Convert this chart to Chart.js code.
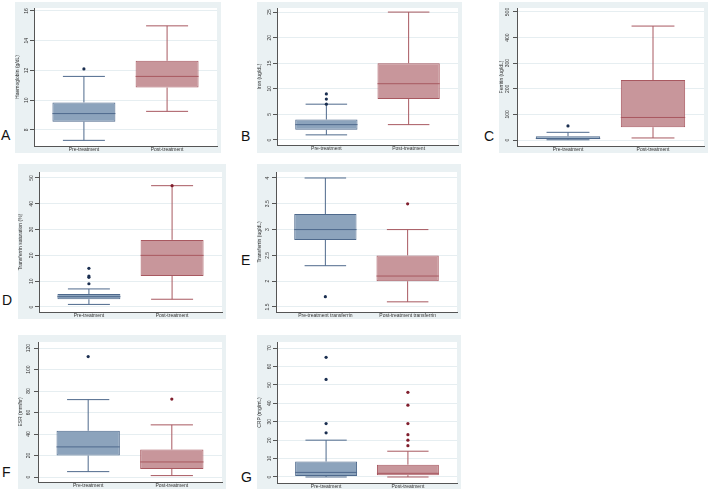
<!DOCTYPE html>
<html>
<head>
<meta charset="utf-8">
<script src="https://cdn.jsdelivr.net/npm/chart.js@4.4.0/dist/chart.umd.min.js"></script>
<style>
  body { margin: 0; background: #fff; width: 709px; height: 491px; position: relative; overflow: hidden; }
  .panel { position: absolute; background: #eaf1f3; }
  .panel canvas { display: block; }
  .tag { position: absolute; font: 14px "Liberation Sans", Arial, sans-serif; line-height: 14px; color: #111; }
</style>
</head>
<body>
<div class="tag" style="left:1px;top:128px">A</div>
<div class="tag" style="left:241px;top:129px">B</div>
<div class="tag" style="left:484px;top:129px">C</div>
<div class="tag" style="left:2px;top:293px">D</div>
<div class="tag" style="left:241px;top:253px">E</div>
<div class="tag" style="left:2px;top:465px">F</div>
<div class="tag" style="left:241px;top:470px">G</div>

<script>
const groups = ['Pre-treatment', 'Post-treatment'];
const groupsE = ['Pre-treatment transferrin', 'Post-treatment transferrin'];
const groupPos = [1, 2];

// A - haemoglobin
const hbLow = [7.3, 9.25], hbQ1 = [8.55, 10.85], hbMed = [9.1, 11.6], hbQ3 = [9.85, 12.65], hbHigh = [11.6, 15.0];
const hbOutPre = [12.1], hbOutPost = [];
const hbTicks = [8, 10, 12, 14, 16];

// B - iron
const feLow = [1, 3], feQ1 = [2, 8], feMed = [3, 11], feQ3 = [4, 15], feHigh = [7, 25];
const feOutPre = [7, 8, 9], feOutPost = [];
const feTicks = [0, 5, 10, 15, 20, 25];

// C - ferritin
const ferLow = [1, 8], ferQ1 = [3, 50], ferMed = [6, 88], ferQ3 = [15, 234], ferHigh = [30, 445];
const ferOutPre = [55], ferOutPost = [];
const ferTicks = [0, 100, 200, 300, 400, 500];

// D - transferrin saturation
const tsLow = [1, 3], tsQ1 = [3, 12], tsMed = [4, 20], tsQ3 = [5, 26], tsHigh = [7, 47];
const tsOutPre = [9, 11.5, 12, 15], tsOutPost = [47];
const tsTicks = [0, 10, 20, 30, 40, 50];

// E - transferrin
const tfLow = [2.3, 1.6], tfQ1 = [2.8, 2.0], tfMed = [3.0, 2.1], tfQ3 = [3.3, 2.5], tfHigh = [4.0, 3.0];
const tfOutPre = [1.7], tfOutPost = [3.5];
const tfTicks = [1.5, 2, 2.5, 3, 3.5, 4];

// F - ESR
const esrLow = [5, 1.3], esrQ1 = [20, 7.5], esrMed = [28, 14], esrQ3 = [43, 25.5], esrHigh = [72, 48.5];
const esrOutPre = [112], esrOutPost = [72.5];
const esrTicks = [0, 20, 40, 60, 80, 100, 120];

// G - CRP
const crpLow = [0, 0], crpQ1 = [0.5, 1], crpMed = [2.5, 2], crpQ3 = [8.4, 6.7], crpHigh = [20, 14];
const crpOutPre = [24, 29, 53, 65], crpOutPost = [17, 20, 23, 29, 39, 46];
const crpTicks = [0, 10, 20, 30, 40, 50, 60, 70];

const FONT = '"Liberation Sans", Arial, sans-serif';
const fills = ['#8ca3bc', '#c8969b'];
const edges = ['#4e698c', '#a85860'];
const dots = ['#1a2e50', '#801e2d'];

// whiskers, caps and median line drawn off the y scale
const boxPlugin = {
  id: 'boxParts',
  beforeDraw(chart) {
    const { ctx, chartArea: a } = chart;
    ctx.save();
    ctx.fillStyle = '#ffffff';
    ctx.fillRect(a.left, a.top, a.right - a.left, a.bottom - a.top);
    ctx.restore();
  },
  afterDatasetDraw(chart, args, opts) {
    if (args.index !== 0) return;
    const ctx = chart.ctx, y = chart.scales.y;
    const px = v => y.getPixelForValue(v);
    args.meta.data.forEach((bar, i) => {
      const half = bar.width / 2, cap = bar.width / 3;
      ctx.save();
      ctx.strokeStyle = edges[i];
      ctx.lineWidth = 1;
      ctx.beginPath();
      ctx.moveTo(bar.x, px(opts.q1[i])); ctx.lineTo(bar.x, px(opts.low[i]));
      ctx.moveTo(bar.x - cap, px(opts.low[i])); ctx.lineTo(bar.x + cap, px(opts.low[i]));
      ctx.moveTo(bar.x, px(opts.q3[i])); ctx.lineTo(bar.x, px(opts.high[i]));
      ctx.moveTo(bar.x - cap, px(opts.high[i])); ctx.lineTo(bar.x + cap, px(opts.high[i]));
      ctx.moveTo(bar.x - half, px(opts.med[i])); ctx.lineTo(bar.x + half, px(opts.med[i]));
      ctx.stroke();
      ctx.restore();
    });
  }
};

function makePanel(p) {
  const [bx, by, bw, bh] = p.box;
  const [l, t, r, b] = p.area;
  const div = document.createElement('div');
  div.className = 'panel';
  div.style.cssText = `left:${bx}px;top:${by}px;width:${bw}px;height:${bh}px`;
  const cv = document.createElement('canvas');
  cv.width = bw; cv.height = bh;
  div.appendChild(cv);
  document.body.appendChild(div);

  const outlier = (vals, i) => ({
    type: 'line',
    data: vals.map(v => ({ x: groupPos[i], y: v })),
    showLine: false,
    pointRadius: 1.6,
    pointBorderWidth: 0,
    pointBackgroundColor: dots[i],
    order: -1
  });

  new Chart(cv, {
    type: 'bar',
    data: {
      datasets: [
        {
          data: p.q1.map((v, i) => ({ x: groupPos[i], y: [v, p.q3[i]] })),
          backgroundColor: fills,
          borderColor: edges,
          borderWidth: 1,
          borderSkipped: false,
          barPercentage: 0.757,
          categoryPercentage: 1
        },
        outlier(p.outPre, 0),
        outlier(p.outPost, 1)
      ]
    },
    options: {
      responsive: false,
      animation: false,
      layout: { padding: { left: 0, top: t - by, right: bx + bw - r, bottom: 0 } },
      plugins: {
        legend: { display: false },
        tooltip: { enabled: false },
        boxParts: { low: p.low, q1: p.q1, med: p.med, q3: p.q3, high: p.high }
      },
      scales: {
        x: {
          type: 'linear',
          min: 0.4,
          max: 2.6,
          offset: false,
          afterBuildTicks: ax => { ax.ticks = groupPos.map(v => ({ value: v })); },
          grid: { display: false, drawTicks: false },
          border: { color: '#555', width: 1 },
          ticks: { font: { size: 5, family: FONT }, color: '#333', padding: 1, maxRotation: 0, autoSkip: false,
            callback: v => p.labels[groupPos.indexOf(v)] },
          afterFit: ax => { ax.height = by + bh - b; }
        },
        y: {
          min: p.min,
          max: p.max,
          afterBuildTicks: ax => { ax.ticks = p.ticks.map(v => ({ value: v })); },
          afterFit: ax => { ax.width = l - bx; },
          grid: { color: '#e6eef1', tickColor: '#555', tickLength: 4 },
          border: { color: '#555', width: 1 },
          ticks: { font: { size: 5, family: FONT }, color: '#333', minRotation: 90, maxRotation: 90, crossAlign: 'center', padding: 1,
            callback: v => String(v) },
          title: { display: true, text: p.title, font: { size: 5, family: FONT }, color: '#333', padding: { top: 0, bottom: 0 } }
        }
      }
    },
    plugins: [boxPlugin]
  });
}

makePanel({ box: [15, 2, 206, 151], area: [34, 8, 217, 146], min: 6.92, max: 16.2, title: 'Haemoglobin (g/dL)', labels: groups,
  low: hbLow, q1: hbQ1, med: hbMed, q3: hbQ3, high: hbHigh, outPre: hbOutPre, outPost: hbOutPost, ticks: hbTicks });
makePanel({ box: [257, 2, 205, 151], area: [277, 8, 459, 145], min: -0.98, max: 25.8, title: 'Iron (ug/dL)', labels: groups,
  low: feLow, q1: feQ1, med: feMed, q3: feQ3, high: feHigh, outPre: feOutPre, outPost: feOutPost, ticks: feTicks });
makePanel({ box: [499, 2, 209, 151], area: [517, 8, 705, 146], min: -23.4, max: 515.6, title: 'Ferritin (ug/dL)', labels: groups,
  low: ferLow, q1: ferQ1, med: ferMed, q3: ferQ3, high: ferHigh, outPre: ferOutPre, outPost: ferOutPost, ticks: ferTicks });
makePanel({ box: [18, 164, 208, 155], area: [39, 172, 223, 312], min: -1.94, max: 52.3, title: 'Transferrin saturation (%)', labels: groups,
  low: tsLow, q1: tsQ1, med: tsMed, q3: tsQ3, high: tsHigh, outPre: tsOutPre, outPost: tsOutPost, ticks: tsTicks });
makePanel({ box: [257, 164, 204, 155], area: [276, 172, 459, 312], min: 1.403, max: 4.116, title: 'Transferrin (ug/dL)', labels: groupsE,
  low: tfLow, q1: tfQ1, med: tfMed, q3: tfQ3, high: tfHigh, outPre: tfOutPre, outPost: tfOutPost, ticks: tfTicks });
makePanel({ box: [18, 335, 208, 154], area: [38, 342, 223, 482], min: -4.65, max: 125.6, title: 'ESR (mm/hr)', labels: groups,
  low: esrLow, q1: esrQ1, med: esrMed, q3: esrQ3, high: esrHigh, outPre: esrOutPre, outPost: esrOutPost, ticks: esrTicks });
makePanel({ box: [257, 335, 204, 154], area: [277, 342, 459, 483], min: -3.26, max: 73.3, title: 'CRP (mg/mL)', labels: groups,
  low: crpLow, q1: crpQ1, med: crpMed, q3: crpQ3, high: crpHigh, outPre: crpOutPre, outPost: crpOutPost, ticks: crpTicks });
</script>
</body>
</html>
